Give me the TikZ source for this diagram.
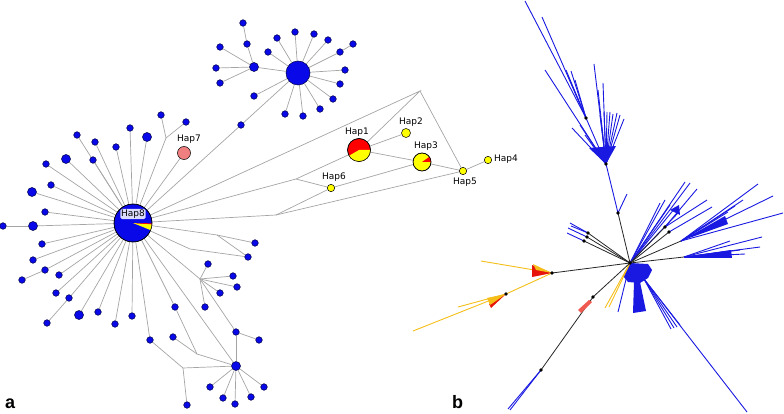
\documentclass[tikz,border=0pt]{standalone}
\usepackage{fontspec}
\setmainfont{DejaVu Sans}
\newfontfamily\panelfont{Liberation Sans}
\usetikzlibrary{backgrounds}
\definecolor{nb}{RGB}{8,8,232}
\definecolor{nbd}{RGB}{0,0,70}
\definecolor{eg}{RGB}{165,165,165}
\definecolor{hy}{RGB}{255,255,0}
\definecolor{hr}{RGB}{255,0,0}
\definecolor{hp}{RGB}{240,128,128}
\definecolor{tblue}{RGB}{25,25,225}
\definecolor{tyel}{RGB}{245,190,25}
\definecolor{tred}{RGB}{230,20,10}
\definecolor{tpink}{RGB}{240,90,80}
\begin{document}
\begin{tikzpicture}[x=1pt,y=-1pt,
  sn/.style={circle,fill=nb,draw=nbd,line width=0.5pt,minimum size=6.6pt,inner sep=0pt},
  mn/.style={sn,minimum size=9pt},
  hn/.style={circle,draw=black,line width=0.5pt,inner sep=0pt},
  ed/.style={draw=eg,line width=0.7pt},
  lab/.style={font=\fontsize{9}{10}\selectfont,inner sep=0pt},
  tb/.style={draw=tblue,line width=0.9pt},
  tk/.style={draw=black!85,line width=0.8pt},
  ty/.style={draw=tyel,line width=0.9pt},
  dot/.style={circle,fill=black,inner sep=0pt,minimum size=3.6pt},
  pl/.style={font=\panelfont\bfseries\fontsize{18}{20}\selectfont,inner sep=0pt,anchor=base west}]
\useasboundingbox (0,0) rectangle (784,414);
% ---------------- panel a: nodes ----------------
\node[hn,fill=nb,minimum size=38pt] (h8) at (133,223) {};
\fill[hy] (h8.center) -- ++(4:19) arc (4:22:19) -- cycle;
\fill[hr] (h8.center) -- ++(1:19) arc (1:4:19) -- cycle;
\draw[line width=0.5pt] (h8.center) circle (19);
% left fan
\node[sn] (a1) at (161,115) {};
\node[sn] (a2) at (186,122) {};
\coordinate (ja) at (166,138);
\node[mn] (a3) at (147,137) {};
\node[sn] (a4) at (130,128) {};
\node[sn] (a5) at (116,147) {};
\node[sn] (a6) at (95,142) {};
\node[sn] (a7) at (77,135) {};
\node[mn] (a8) at (66,159) {};
\node[sn] (a9) at (93,160) {};
\node[sn] (a10) at (46,164) {};
\node[sn] (a11) at (51,185) {};
\node[mn] (a12) at (32,192) {};
\node[sn] (a13) at (45,212) {};
\node[mn] (a14) at (33,226) {};
\node[sn] (a15) at (3,226) {};
\node[sn] (a16) at (42,244) {};
\node[sn] (a17) at (33,260) {};
\node[sn] (a18) at (45,270) {};
\node[sn] (a19) at (22,280) {};
\node[sn] (a20) at (59,275) {};
\node[sn] (a21) at (56,293) {};
\node[sn] (a22) at (69,298) {};
\node[sn] (a23) at (47,323) {};
\node[mn] (a24) at (79,315) {};
\node[sn] (a25) at (98,312) {};
\node[sn] (a26) at (115,324) {};
\node[sn] (a27) at (132,316) {};
\node[hn,fill=hp,minimum size=13pt] (h7) at (184,153) {};
\node[sn] (a28) at (241,125) {};
% top cluster
\node[hn,fill=nb,draw=nbd,minimum size=24pt] (t0) at (298,73) {};
\node[mn] (t1) at (254,67) {};
\node[sn] (t2) at (243,23) {};
\node[sn] (t3) at (247,44) {};
\node[sn] (t4) at (220,47) {};
\node[sn] (t5) at (216,68) {};
\node[sn] (t6) at (220,83) {};
\node[sn] (u1) at (268,52) {};
\node[sn] (u2) at (277,38) {};
\node[sn] (u3) at (295,32) {};
\node[sn] (u4) at (314,34) {};
\node[sn] (u5) at (328,40) {};
\node[sn] (u6) at (340,52) {};
\node[sn] (u7) at (353,44) {};
\node[sn] (u8) at (345,70) {};
\node[sn] (u9) at (340,84) {};
\node[sn] (u10) at (333,99) {};
\node[sn] (u11) at (320,109) {};
\node[sn] (u12) at (303,116) {};
\node[sn] (u13) at (285,114) {};
\node[sn] (u14) at (254,96) {};
% lower right
\coordinate (j1) at (217,235);
\coordinate (j2) at (190,249);
\coordinate (j3) at (200,279);
\coordinate (j4) at (197,354);
\coordinate (j5) at (183,368);
\node[sn] (b1) at (255,243) {};
\node[sn] (b2) at (248,257) {};
\node[sn] (b3) at (208,264) {};
\node[sn] (b4) at (233,276) {};
\node[sn] (b5) at (237,287) {};
\node[sn] (b6) at (220,293) {};
\node[sn] (b7) at (205,307) {};
\node[sn] (b8) at (236,332) {};
\node[sn] (b9) at (259,340) {};
\node[mn] (b10) at (236,366) {};
\node[sn] (b11) at (175,307) {};
\node[sn] (b12) at (173,337) {};
\node[sn] (b13) at (150,340) {};
\node[sn] (b14) at (187,405) {};
\node[sn] (c1) at (210,387) {};
\node[sn] (c2) at (223,398) {};
\node[sn] (c3) at (235,404) {};
\node[sn] (c4) at (251,397) {};
\node[sn] (c5) at (264,387) {};
% haplotypes
\node[hn,fill=hr,minimum size=23pt] (h1) at (359,150) {};
\fill[hy] (h1.center) -- ++(0:11.5) arc (0:150:11.5) -- cycle;
\draw[line width=0.5pt] (h1.center) circle (11.5);
\node[hn,fill=hy,minimum size=9pt] (h2) at (406,133) {};
\node[hn,fill=hy,minimum size=18pt] (h3) at (422,162) {};
\fill[hr] (h3.center) -- ++(-35:9) arc (-35:0:9) -- cycle;
\draw[line width=0.5pt] (h3.center) circle (9);
\node[hn,fill=hy,minimum size=7.4pt] (h4) at (488,160) {};
\node[hn,fill=hy,minimum size=7.4pt] (h5) at (463,171) {};
\node[hn,fill=hy,minimum size=7.4pt] (h6) at (331,188) {};
\coordinate (jt) at (420,91);
\coordinate (jm) at (296,179);
\coordinate (jl) at (276,215);
% labels
\node[lab] (l1) at (357,132) {Hap1};
\node[lab] (l2) at (411,122) {Hap2};
\node[lab] (l3) at (426,146) {Hap3};
\node[lab] (l4) at (506,159) {Hap4};
\node[lab] (l5) at (465,182) {Hap5};
\node[lab] (l6) at (334,177) {Hap6};
\node[lab] (l7) at (189,139) {Hap7};
\node[lab,fill=white,fill opacity=0.85,text opacity=1,rounded corners=1.5pt,inner sep=0.8pt] (l8) at (133,214) {Hap8};
% ---------------- panel a: edges ----------------
\begin{scope}[on background layer]
\foreach \n in {a3,a4,a5,a6,a7,a8,a9,a10,a11,a12,a13,a14,a16,a17,a18,a20,a21,a22,a24,a25,a26,a27,h7,a28,b11,b13,b10}
  \draw[ed] (h8) -- (\n);
\draw[ed] (h8) -- (ja) -- (a1); \draw[ed] (ja) -- (a2);
\draw[ed] (a14) -- (a15); \draw[ed] (a18) -- (a19); \draw[ed] (a22) -- (a23);
\draw[ed] (a28) -- (t0);
\draw[ed] (t2) -- (t3) -- (t1) -- (t0);
\foreach \n in {t4,t5,t6} \draw[ed] (t1) -- (\n);
\foreach \n in {u1,u2,u3,u4,u5,u6,u8,u9,u10,u11,u12,u13,u14} \draw[ed] (t0) -- (\n);
\draw[ed] (u6) -- (u7);
\draw[ed] (h8) -- (j1) -- (b1); \draw[ed] (j1) -- (b2);
\draw[ed] (h8) -- (j2) -- (b2);
\draw[ed] (h8) -- (j3);
\foreach \n in {b3,b4,b5,b6,b7,b8} \draw[ed] (j3) -- (\n);
\draw[ed] (b8) -- (b9); \draw[ed] (b8) -- (b10);
\foreach \n in {c1,c2,c3,c4,c5} \draw[ed] (b10) -- (\n);
\draw[ed] (b11) -- (j4) -- (b10); \draw[ed] (b12) -- (j4);
\draw[ed] (b13) -- (j5) -- (b10); \draw[ed] (j5) -- (b14);
\draw[ed] (h8) -- (jt) -- (h1); \draw[ed] (jt) -- (h5);
\draw[ed] (h8) -- (jm) -- (h1); \draw[ed] (jm) -- (h6);
\draw[ed] (h8) -- (jl) -- (h6); \draw[ed] (jl) -- (h5);
\draw[ed] (h1) -- (h2); \draw[ed] (h1) -- (h3); \draw[ed] (h6) -- (h3);
\draw[ed] (h3) -- (h5); \draw[ed] (h5) -- (h4);
\end{scope}
% ---------------- panel b ----------------
\coordinate (hub) at (630,263);
\coordinate (d1) at (618,213);
\coordinate (d10) at (606,164);
\coordinate (d11) at (586,118);
\coordinate (d2) at (588,233);
\coordinate (d3) at (587,237);
\coordinate (d4) at (584,241);
\coordinate (d5) at (665,227);
\coordinate (d6) at (669,232);
\coordinate (d7) at (552,273);
\coordinate (d12) at (506,294);
\coordinate (d8) at (593,297);
\coordinate (d9) at (541,370);
\coordinate (e1) at (681,241);
\coordinate (e2) at (684,257);
\coordinate (bl) at (644,279);
% top branch
\draw[tb] (d1) -- (d10) -- (d11);
\draw[tb] (d1) -- (627,194);
\foreach \p in {(525,1),(542,17),(571,71),(566,70),(568,76),(575,80)} \draw[tb] (d11) -- \p;
\foreach \p in {(545,70),(572,128),(594,64),(603,83),(598,90),(600,115),(604,112),(607,112),(610,112),(613,114),(617,113),(620,115),(624,119),(580,125),(585,135)} \draw[tb] (d10) -- \p;
\fill[tblue] (589,148) -- (616,146) -- (d10) -- cycle;
% left blue short
\draw[tb] (d2) -- (570,223); \draw[tb] (d3) -- (568,228); \draw[tb] (d4) -- (567,233);
\draw[tb] (d2) -- (571,226);
% NE fan
\foreach \p in {(685,182),(690,183),(660,203),(665,200),(670,205),(678,213),(675,208)} \draw[tb] (hub) -- \p;
\fill[tblue] (670,210) -- (679,205) -- (680,215) -- cycle;
\draw[tb] (d5) -- (697,189); \draw[tb] (d5) -- (707,200); \draw[tb] (d6) -- (712,207);
\foreach \p in {(758,184),(773,196),(783,213),(743,200),(735,206),(728,212)} \draw[tb] (e1) -- \p;
\fill[tblue] (e1) -- (725,216) -- (728,224) -- cycle;
\foreach \p in {(762,237),(760,247),(730,241),(732,257),(745,254),(740,250)} \draw[tb] (e2) -- \p;
\fill[tblue] (e2) -- (731,250) -- (732,258) -- cycle;
% lower blob and lines
\fill[tblue] (630,263) -- (648,264) -- (652,270) -- (648,278) -- (640,283) -- (628,282) -- (623,276) -- cycle;
\draw[tb] (hub) -- (618,312);
\fill[tblue] (634,282) -- (640,282) -- (646,311) -- (633,313) -- cycle;
\foreach \p in {(680,325),(677,327),(674,328),(671,329)} \draw[tb] (bl) -- \p;
\draw[tb] (bl) -- (747,412);
% yellow lines from hub
\draw[ty] (hub) -- (605,308); \draw[ty] (hub) -- (609,307);
% black internal branches
\foreach \p in {d1,d2,d3,d4,d5,d6,d7,d8,e1,e2} \draw[tk] (hub) -- (\p);
\draw[tk] (d8) -- (d9);
\draw[tb] (d9) -- (510,410); \draw[tb] (d9) -- (508,409);
\fill[tpink] (578,310) -- (589,300) -- (592,302) -- (581,313) -- cycle;
% yellow/red clade
\draw[ty] (d7) -- (481,261);
\fill[tred] (532,265) -- (d7) -- (532,277) -- cycle;
\fill[tyel] (533,264) -- (d7) -- (536,270) -- cycle;
\draw[ty] (d7) -- (d12);
\draw[ty] (d12) -- (413,331); \draw[ty] (d12) -- (458,307);
\fill[tred] (489,304) -- (d12) -- (491,308) -- cycle;
\fill[tyel] (487,298) -- (d12) -- (490,305) -- cycle;
\foreach \p in {hub,d1,d10,d11,d2,d3,d4,d5,d6,d7,d12,d8,d9} \node[dot] at (\p) {};
% panel labels
\node[pl] (pa) at (5,408) {a};
\node[pl] (pb) at (452,408) {b};
\end{tikzpicture}
\end{document}
